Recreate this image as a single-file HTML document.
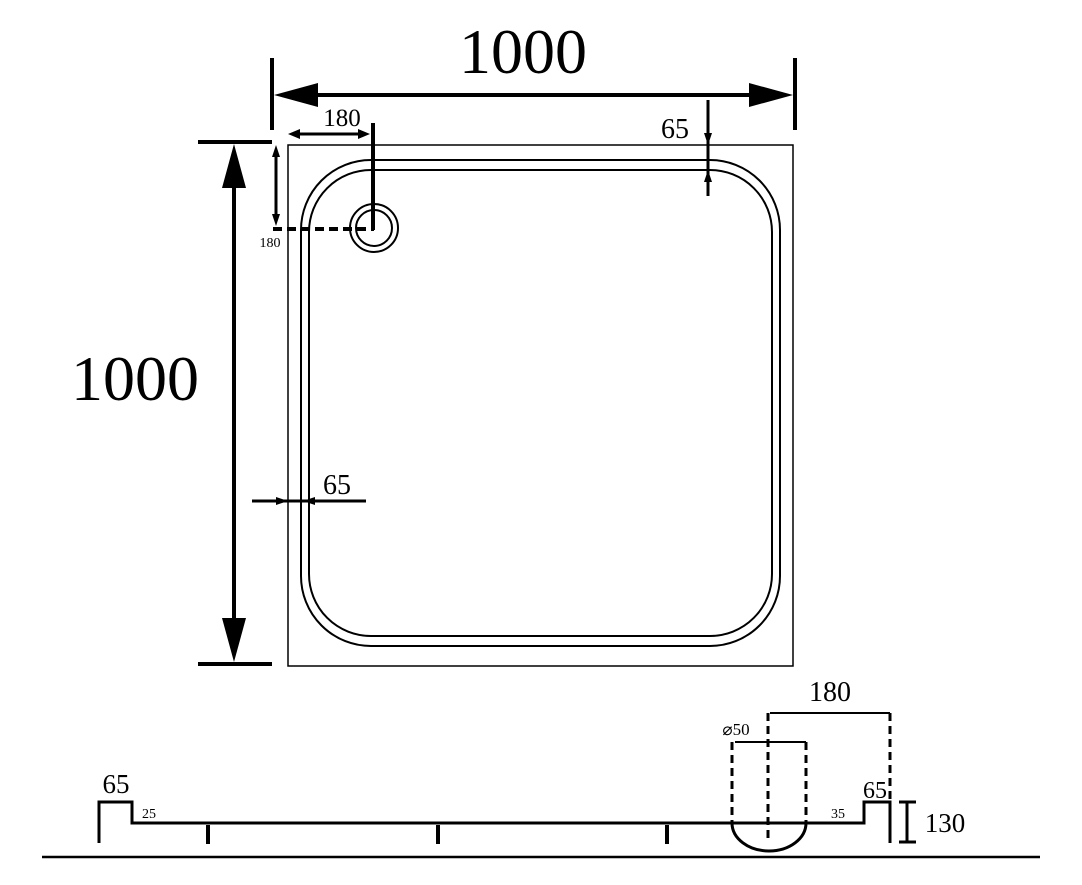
<!DOCTYPE html>
<html><head><style>html,body{margin:0;padding:0;background:#fff}svg{display:block}</style></head>
<body>
<svg width="1082" height="885" viewBox="0 0 1082 885" xmlns="http://www.w3.org/2000/svg" font-family="Liberation Serif, serif" fill="none" stroke="#000">
<!-- plan -->
<rect x="288" y="145" width="505" height="521" stroke-width="1.5"/>
<rect x="301" y="160" width="479" height="486" rx="70" stroke-width="2"/>
<rect x="309" y="170" width="463" height="466" rx="62" stroke-width="2"/>
<!-- top 1000 -->
<line x1="272" y1="58" x2="272" y2="130" stroke-width="4"/>
<line x1="795" y1="58" x2="795" y2="130" stroke-width="4"/>
<line x1="300" y1="95" x2="770" y2="95" stroke-width="4"/>
<polygon points="274,95 318,83 318,107" fill="#000" stroke="none"/>
<polygon points="793,95 749,83 749,107" fill="#000" stroke="none"/>
<text x="523" y="73" font-size="64" fill="#000" stroke="none" text-anchor="middle">1000</text>
<!-- left 1000 -->
<line x1="198" y1="142" x2="272" y2="142" stroke-width="4"/>
<line x1="198" y1="664" x2="272" y2="664" stroke-width="4"/>
<line x1="234" y1="170" x2="234" y2="640" stroke-width="4"/>
<polygon points="234,144 222,188 246,188" fill="#000" stroke="none"/>
<polygon points="234,662 222,618 246,618" fill="#000" stroke="none"/>
<text x="135" y="400" font-size="64" fill="#000" stroke="none" text-anchor="middle">1000</text>
<!-- 180 drain -->
<line x1="296" y1="134" x2="362" y2="134" stroke-width="3"/>
<polygon points="288,134 300,129 300,139" fill="#000" stroke="none"/>
<polygon points="370,134 358,129 358,139" fill="#000" stroke="none"/>
<text x="342" y="126" font-size="25" fill="#000" stroke="none" text-anchor="middle">180</text>
<line x1="373" y1="123" x2="373" y2="230" stroke-width="4"/>
<circle cx="374" cy="228" r="24" stroke-width="2"/>
<circle cx="374" cy="228" r="18" stroke-width="2"/>
<line x1="273" y1="229" x2="374" y2="229" stroke-width="4" stroke-dasharray="9,5"/>
<line x1="276" y1="152" x2="276" y2="220" stroke-width="3"/>
<polygon points="276,145 272,157 280,157" fill="#000" stroke="none"/>
<polygon points="276,226 272,214 280,214" fill="#000" stroke="none"/>
<text x="270" y="247" font-size="14" fill="#000" stroke="none" text-anchor="middle">180</text>
<!-- 65 top right -->
<line x1="708" y1="100" x2="708" y2="196" stroke-width="3"/>
<polygon points="708,145 704,133 712,133" fill="#000" stroke="none"/>
<polygon points="708,170 704,182 712,182" fill="#000" stroke="none"/>
<text x="675" y="138" font-size="28" fill="#000" stroke="none" text-anchor="middle">65</text>
<!-- 65 left -->
<line x1="252" y1="501" x2="366" y2="501" stroke-width="3"/>
<polygon points="288,501 276,497 276,505" fill="#000" stroke="none"/>
<polygon points="303,501 315,497 315,505" fill="#000" stroke="none"/>
<text x="337" y="494" font-size="28" fill="#000" stroke="none" text-anchor="middle">65</text>
<!-- profile -->
<polyline points="99,843 99,802 132,802 132,823 864,823 864,802 890,802 890,843" stroke-width="3"/>
<path d="M732,823 A37,28 0 0 0 806,823" stroke-width="3"/>
<g stroke-width="3" stroke-dasharray="8,5">
<line x1="732" y1="742" x2="732" y2="823"/>
<line x1="806" y1="742" x2="806" y2="823"/>
<line x1="768" y1="713" x2="768" y2="838"/>
<line x1="890" y1="713" x2="890" y2="800"/>
</g>
<line x1="735" y1="742" x2="806" y2="742" stroke-width="2"/>
<line x1="770" y1="713" x2="890" y2="713" stroke-width="2"/>
<g fill="#000" stroke="none">
<text x="830" y="701" font-size="28" text-anchor="middle">180</text>
<text x="736" y="735" font-size="17" text-anchor="middle">⌀50</text>
<text x="116" y="793" font-size="27" text-anchor="middle">65</text>
<text x="875" y="798" font-size="24" text-anchor="middle">65</text>
<text x="149" y="818" font-size="14" text-anchor="middle">25</text>
<text x="838" y="818" font-size="14" text-anchor="middle">35</text>
<text x="945" y="832" font-size="27" text-anchor="middle">130</text>
<rect x="206" y="825" width="4" height="19"/>
<rect x="436" y="825" width="4" height="19"/>
<rect x="665" y="825" width="4" height="19"/>
</g>
<line x1="907" y1="802" x2="907" y2="842" stroke-width="3"/>
<line x1="899" y1="802" x2="916" y2="802" stroke-width="3"/>
<line x1="899" y1="842" x2="916" y2="842" stroke-width="3"/>
<line x1="42" y1="857" x2="1040" y2="857" stroke-width="2.5"/>
</svg>
</body></html>
